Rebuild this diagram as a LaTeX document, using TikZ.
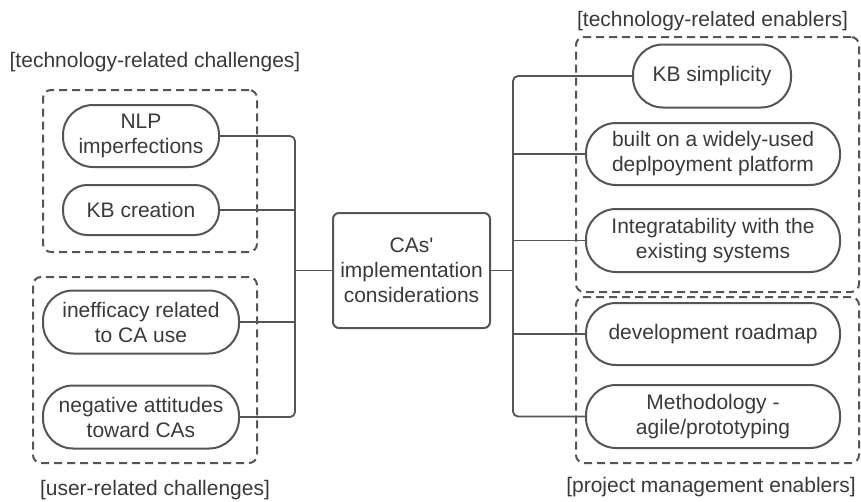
\documentclass[tikz,border=0pt]{standalone}
\usepackage{fontspec}
\setmainfont{Liberation Sans}[Ligatures=TeXOff]
\definecolor{ln}{HTML}{555555}
\definecolor{tx}{HTML}{3A3A3A}
\begin{document}
\begin{tikzpicture}[x=1pt,y=-1pt,
  every node/.style={font=\fontsize{21}{25}\selectfont, text=tx, inner sep=0pt, align=center},
  pill/.style={draw=ln, line width=2pt, rounded corners=30pt, minimum height=62pt},
  grp/.style={draw=ln, line width=2pt, dash pattern=on 8pt off 5pt, rounded corners=8pt},
  conn/.style={draw=ln, line width=1.8pt},
  lbl/.style={}]
\useasboundingbox (0,0) rectangle (861,501);
\fill[white] (0,0) rectangle (861,501);
% group boxes
\node[grp, minimum width=214pt, minimum height=162pt] (g1) at (150,171) {};
\node[grp, minimum width=224pt, minimum height=186pt] (g2) at (145,370) {};
\node[grp, minimum width=283pt, minimum height=255pt] (g3) at (717.5,164.5) {};
\node[grp, minimum width=283pt, minimum height=166pt] (g4) at (717.5,380) {};
% group labels
\node[lbl] (l1) at (155,62) {[technology-related challenges]};
\node[lbl] (l2) at (155,490) {[user-related challenges]};
\node[lbl] (l3) at (712.5,21) {[technology-related enablers]};
\node[lbl] (l4) at (711,487) {[project management enablers]};
% left nodes
\node[pill, minimum width=156pt] (ta) at (141,136) {NLP\\imperfections};
\node[pill, minimum width=156pt, minimum height=50pt, rounded corners=24pt] (tb) at (141,210) {KB creation};
\node[pill, minimum width=196pt, minimum height=63pt] (ua) at (141,322) {inefficacy related\\to CA use};
\node[pill, minimum width=196pt, minimum height=63pt] (ub) at (141,417) {negative attitudes\\toward CAs};
% center
\node[draw=ln, line width=2pt, rounded corners=6pt, minimum width=157pt, minimum height=115pt] (c) at (411.5,270.5) {CAs'\\implementation\\considerations};
% right nodes
\node[pill, minimum width=158pt, minimum height=63pt] (ra) at (712,76) {KB simplicity};
\node[pill, minimum width=254pt] (rb) at (713,154) {built on a widely-used\\deplpoyment platform};
\node[pill, minimum width=254pt, minimum height=63pt] (rc) at (713,240.5) {Integratability with the\\existing systems};
\node[pill, minimum width=254pt] (rd) at (713,334) {development roadmap};
\node[pill, minimum width=254pt, minimum height=63pt] (re) at (713,416.5) {Methodology -\\agile/prototyping};
% buses
\coordinate (lb) at (295,0);
\coordinate (rbus) at (513,0);
\draw[conn, rounded corners=5pt] (ta.east) -| (lb |- ub.east) -- (ub.east);
\draw[conn] (tb.east) -- (tb.east -| lb);
\draw[conn] (ua.east) -- (ua.east -| lb);
\draw[conn] (c.west) -- (c.west -| lb);
\draw[conn, rounded corners=5pt] (ra.west) -| (rbus |- re.west) -- (re.west);
\draw[conn] (rb.west) -- (rb.west -| rbus);
\draw[conn] (rc.west) -- (rc.west -| rbus);
\draw[conn] (rd.west) -- (rd.west -| rbus);
\draw[conn] (c.east) -- (c.east -| rbus);
\end{tikzpicture}
\end{document}
